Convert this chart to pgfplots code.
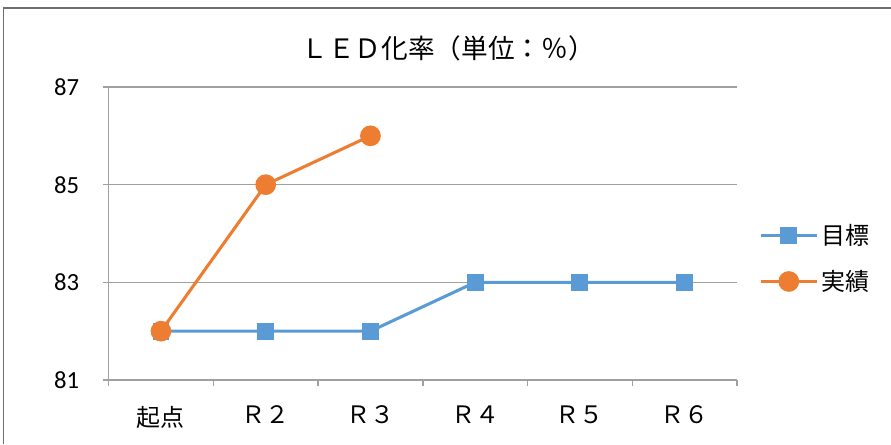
\documentclass[border=0pt]{standalone}
\usepackage{pgfplots}
\pgfplotsset{compat=1.18}
\usepackage{fontspec}
\setmainfont{Carlito}
\newfontfamily\jp{Noto Sans CJK JP}
\definecolor{cblue}{HTML}{5B9BD5}
\definecolor{corange}{HTML}{ED7D31}
\definecolor{cgrid}{HTML}{A0A0A0}
\definecolor{cframe}{HTML}{6E6E6E}
\begin{document}
\begin{tikzpicture}
\useasboundingbox (0,0) rectangle (668.25pt,333pt);
\draw[cframe, line width=0.9pt] (2.5pt,0) -- (2.5pt,327pt) -- (668.25pt,327pt);
\node[font=\jp\fontsize{20}{24}\selectfont] at (336pt,297pt) {ＬＥＤ化率（単位：％）};
\begin{axis}[
  at={(81.45pt,48pt)}, anchor=south west,
  scale only axis, width=471.3pt, height=219.75pt,
  xmin=-0.5, xmax=5.5, ymin=81, ymax=87,
  axis x line=bottom, axis y line=left,
  axis line style={cgrid, line width=1.1pt, -},
  xtick={-0.5,0.5,...,5.5}, xticklabels={},
  extra x ticks={0,1,2,3,4,5},
  extra x tick labels={起点,Ｒ２,Ｒ３,Ｒ４,Ｒ５,Ｒ６},
  extra x tick style={major tick length=0pt, tick label style={font=\jp\fontsize{18}{20}\selectfont, yshift=-16pt}},
  ytick={81,83,85,87},
  ymajorgrids, grid style={cgrid, line width=1.1pt},
  tick align=outside, major tick length=4.5pt,
  tick style={cgrid, line width=1.1pt},
  yticklabel style={font=\fontsize{18.5}{20}\selectfont, xshift=-14pt},
  /pgf/number format/assume math mode=true,
  legend style={at={(1.035,0.415)}, anchor=west, draw=none, fill=none,
    font=\jp\fontsize{18}{22}\selectfont, row sep=14pt, inner sep=0pt,
    /tikz/every even column/.append style={column sep=4pt}},
  legend cell align=left,
  legend image code/.code={\draw[mark repeat=2,mark phase=2] plot coordinates {(0pt,0pt) (21pt,0pt) (42pt,0pt)};},
  clip=false,
]
\addplot[cblue, line width=2.3pt, mark=square*, mark size=5.2pt, mark options={solid}]
  coordinates {(0,82) (1,82) (2,82) (3,83) (4,83) (5,83)};
\addlegendentry{目標}
\addplot[corange, line width=2.3pt, mark=*, mark size=6.6pt]
  coordinates {(0,82) (1,85) (2,86)};
\addlegendentry{実績}
\end{axis}
\end{tikzpicture}
\end{document}
